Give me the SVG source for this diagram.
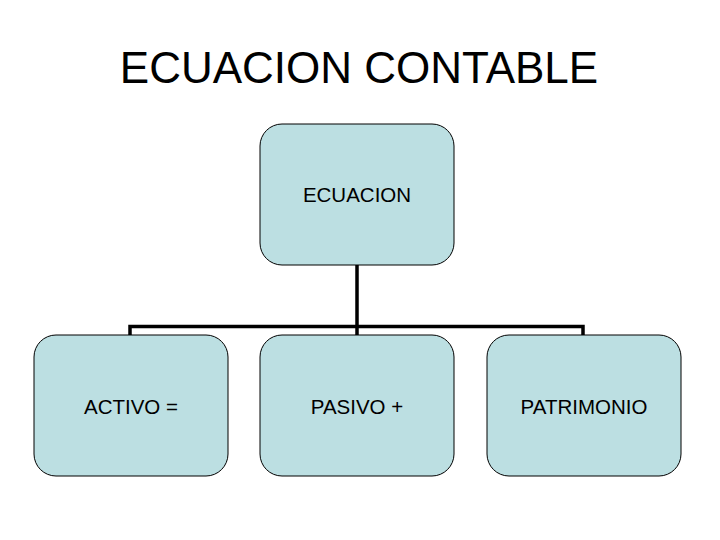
<svg xmlns="http://www.w3.org/2000/svg" width="720" height="540" viewBox="0 0 720 540">
<style>
.box{fill:#bcdfe2;stroke:#000;stroke-width:1}
.lbl{font-family:"Liberation Sans",Arial,sans-serif;font-size:20.5px;fill:#000;text-anchor:middle}
.title{font-family:"Liberation Sans",Arial,sans-serif;font-size:44px;fill:#000;text-anchor:middle}
.conn{fill:none;stroke:#000;stroke-width:3.5}
</style>
<rect width="720" height="540" fill="#fff"/>
<text class="title" x="359" y="83">ECUACION CONTABLE</text>
<g id="connectors">
<path class="conn" d="M357,265 V335 M130,335 V326.5 H583 V335"/>
</g>
<g id="ecuacion">
<rect class="box" x="260" y="124" width="194" height="141" rx="22" ry="22"/>
<text class="lbl" x="357" y="202">ECUACION</text>
</g>
<g id="activo">
<rect class="box" x="34" y="335" width="194" height="141" rx="22" ry="22"/>
<text class="lbl" x="131" y="414">ACTIVO =</text>
</g>
<g id="pasivo">
<rect class="box" x="260" y="335" width="194" height="141" rx="22" ry="22"/>
<text class="lbl" x="357" y="414">PASIVO +</text>
</g>
<g id="patrimonio">
<rect class="box" x="487" y="335" width="194" height="141" rx="22" ry="22"/>
<text class="lbl" x="584" y="414">PATRIMONIO</text>
</g>
</svg>
